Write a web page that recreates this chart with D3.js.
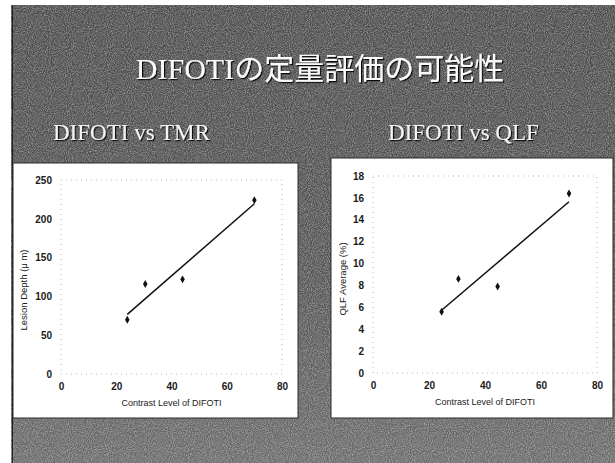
<!DOCTYPE html>
<html>
<head>
<meta charset="utf-8">
<script src="https://cdn.jsdelivr.net/npm/d3@7"></script>
<style>
  html, body { margin: 0; padding: 0; background: #fff; }
  svg { display: block; }
</style>
</head>
<body>
<div id="slide"></div>
<script>
"use strict";

// slide texts
const slideTitle = "DIFOTIの定量評価の可能性";
const panelTitles = ["DIFOTI vs TMR", "DIFOTI vs QLF"];

// shared x axis
const xTicks = [0, 20, 40, 60, 80];
const xLabel = "Contrast Level of DIFOTI";

// left chart : DIFOTI vs TMR
const tmrContrast = [24, 30.5, 44, 70];
const tmrDepth = [70, 116, 122, 224];
const tmrTicks = [0, 50, 100, 150, 200, 250];
const tmrLabel = "Lesion Depth (μ m)";

// right chart : DIFOTI vs QLF
const qlfContrast = [24.5, 30.5, 44.5, 70];
const qlfAverage = [5.6, 8.6, 7.9, 16.4];
const qlfTicks = [0, 2, 4, 6, 8, 10, 12, 14, 16, 18];
const qlfLabel = "QLF Average (%)";

const W = 615, H = 463;

const svg = d3.select("#slide").append("svg")
    .attr("width", W)
    .attr("height", H);

const defs = svg.append("defs");

// background gradient + noise to mimic the scanned slide
const grad = defs.append("linearGradient")
    .attr("id", "bgGrad")
    .attr("x1", 0).attr("y1", 0).attr("x2", 0).attr("y2", 1);
grad.append("stop").attr("offset", "0%").attr("stop-color", "#4c4c4c");
grad.append("stop").attr("offset", "60%").attr("stop-color", "#555");
grad.append("stop").attr("offset", "100%").attr("stop-color", "#6a6a6a");

const noise = defs.append("filter")
    .attr("id", "noise")
    .attr("x", 0).attr("y", 0).attr("width", "100%").attr("height", "100%");
noise.append("feTurbulence")
    .attr("type", "fractalNoise")
    .attr("baseFrequency", 0.95)
    .attr("numOctaves", 2)
    .attr("seed", 3)
    .attr("result", "t");
noise.append("feColorMatrix")
    .attr("type", "matrix")
    .attr("values", "0 0 0 0 1  0 0 0 0 1  0 0 0 0 1  1.6 0 0 0 -0.55");

const shadow = defs.append("filter").attr("id", "shadow")
    .attr("x", "-5%").attr("y", "-20%").attr("width", "110%").attr("height", "140%");
shadow.append("feDropShadow")
    .attr("dx", 1.2).attr("dy", 1.2)
    .attr("stdDeviation", 0.6)
    .attr("flood-color", "#000")
    .attr("flood-opacity", 0.9);

// slide area
const bg = { x: 11, y: 5, w: W - 11, h: H - 5 };
svg.append("rect")
    .attr("x", bg.x).attr("y", bg.y)
    .attr("width", bg.w).attr("height", bg.h)
    .attr("fill", "url(#bgGrad)");
svg.append("rect")
    .attr("x", bg.x).attr("y", bg.y)
    .attr("width", bg.w).attr("height", bg.h)
    .attr("fill", "#000")
    .attr("filter", "url(#noise)")
    .attr("opacity", 0.5);
svg.append("line")
    .attr("x1", 12.5).attr("x2", 12.5)
    .attr("y1", bg.y).attr("y2", H)
    .attr("stroke", "#222").attr("stroke-width", 1);

// title
svg.append("text")
    .attr("x", 320)
    .attr("y", 79)
    .attr("text-anchor", "middle")
    .attr("fill", "#fafafa")
    .attr("filter", "url(#shadow)")
    .style("font-family", "'Liberation Serif', 'Noto Sans CJK JP', serif")
    .style("font-size", "30px")
    .text(slideTitle);

// panel subtitles
const subX = [53, 388];
panelTitles.forEach((t, i) => {
    svg.append("text")
        .attr("x", subX[i])
        .attr("y", 140)
        .attr("fill", "#f4f4f4")
        .attr("filter", "url(#shadow)")
        .style("font-family", "'Liberation Serif', serif")
        .style("font-size", "23px")
        .text(t);
});

// draw one scatter panel with a least-squares trend line
function drawPanel(cfg) {
    const g = svg.append("g");

    g.append("rect")
        .attr("x", cfg.box[0]).attr("y", cfg.box[1])
        .attr("width", cfg.box[2] - cfg.box[0])
        .attr("height", cfg.box[3] - cfg.box[1])
        .attr("fill", "#fff")
        .attr("stroke", "#2a2a2a")
        .attr("stroke-width", 1);

    const x = d3.scaleLinear().domain([0, 80]).range(cfg.xRange);
    const y = d3.scaleLinear().domain(cfg.yDomain).range(cfg.yRange);

    // dotted plot-area border
    g.append("rect")
        .attr("x", cfg.xRange[0]).attr("y", cfg.yRange[1])
        .attr("width", cfg.xRange[1] - cfg.xRange[0])
        .attr("height", cfg.yRange[0] - cfg.yRange[1])
        .attr("fill", "none")
        .attr("stroke", "#b8b8b8")
        .attr("stroke-width", 1)
        .attr("stroke-dasharray", "1,4");

    const fontAxis = "'Liberation Sans', Arial, sans-serif";

    const xAxis = g.append("g")
        .attr("transform", `translate(0,${cfg.yRange[0]})`)
        .call(d3.axisBottom(x).tickValues(xTicks).tickSize(0).tickPadding(9));
    const yAxis = g.append("g")
        .attr("transform", `translate(${cfg.xRange[0]},0)`)
        .call(d3.axisLeft(y).tickValues(cfg.yTicks).tickSize(0).tickPadding(9));

    [xAxis, yAxis].forEach(a => {
        a.select(".domain").remove();
        a.selectAll("text")
            .attr("fill", "#1a1a1a")
            .style("font-family", fontAxis)
            .style("font-size", "10px")
            .style("font-weight", "bold");
    });

    g.append("text")
        .attr("x", (cfg.xRange[0] + cfg.xRange[1]) / 2)
        .attr("y", cfg.yRange[0] + 32)
        .attr("text-anchor", "middle")
        .attr("fill", "#1a1a1a")
        .style("font-family", fontAxis)
        .style("font-size", "9px")
        .text(xLabel);

    g.append("text")
        .attr("transform", `translate(${cfg.yTitleX},${cfg.yTitleY}) rotate(-90)`)
        .attr("text-anchor", "middle")
        .attr("dy", "0.35em")
        .attr("fill", "#1a1a1a")
        .style("font-family", fontAxis)
        .style("font-size", "9.5px")
        .text(cfg.yLabel);

    // linear trend line (least squares over the points)
    const mx = d3.mean(cfg.xs), my = d3.mean(cfg.ys);
    const sxy = d3.sum(cfg.xs, (v, i) => (v - mx) * (cfg.ys[i] - my));
    const sxx = d3.sum(cfg.xs, v => (v - mx) * (v - mx));
    const slope = sxy / sxx, icpt = my - slope * mx;
    const ext = d3.extent(cfg.xs);

    g.append("path")
        .datum(ext.map(v => [v, icpt + slope * v]))
        .attr("d", d3.line().x(d => x(d[0])).y(d => y(d[1])))
        .attr("fill", "none")
        .attr("stroke", "#111")
        .attr("stroke-width", 1.5);

    g.selectAll(".pt")
        .data(cfg.xs.map((v, i) => [v, cfg.ys[i]]))
        .enter()
        .append("path")
        .attr("class", "pt")
        .attr("transform", d => `translate(${x(d[0])},${y(d[1])})`)
        .attr("d", d3.symbol(d3.symbolDiamond, 18))
        .attr("fill", "#111");
}

drawPanel({
    box: [13, 163, 298, 418],
    xRange: [61, 282],
    yRange: [374, 180],
    yDomain: [0, 250],
    yTicks: tmrTicks,
    yLabel: tmrLabel,
    yTitleX: 24,
    yTitleY: 290,
    xs: tmrContrast,
    ys: tmrDepth
});

drawPanel({
    box: [331, 158, 613, 418],
    xRange: [373, 597],
    yRange: [373, 176],
    yDomain: [0, 18],
    yTicks: qlfTicks,
    yLabel: qlfLabel,
    yTitleX: 343,
    yTitleY: 279,
    xs: qlfContrast,
    ys: qlfAverage
});
</script>
</body>
</html>
